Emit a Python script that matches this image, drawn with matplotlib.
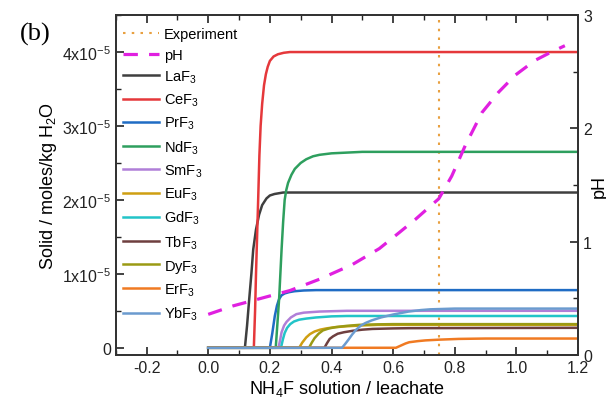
import matplotlib
matplotlib.use("Agg")
import matplotlib.pyplot as plt
import numpy as np

plt.rcParams['font.family'] = ['Liberation Sans', 'DejaVu Sans']
plt.rcParams['mathtext.fontset'] = 'custom'
plt.rcParams['mathtext.rm'] = 'Liberation Sans'
plt.rcParams['mathtext.it'] = 'Liberation Sans:italic'
plt.rcParams['axes.unicode_minus'] = False

# solid amounts (moles/kg H2O, in units of 1e-5)
la_x = [0.0, 0.119, 0.126, 0.133, 0.14, 0.146, 0.155, 0.165, 0.175, 0.189, 0.2, 0.215, 0.243, 1.2]
la_y = [0, 0, 0.3, 0.66, 1.0, 1.33, 1.6, 1.8, 1.93, 2.02, 2.06, 2.08, 2.1, 2.1]
ce_x = [0.0, 0.148, 0.152, 0.155, 0.162, 0.166, 0.170, 0.175, 0.181, 0.187, 0.193,
        0.2, 0.212, 0.226, 0.245, 0.265, 1.2]
ce_y = [0, 0, 0.5, 1.0, 2.0, 2.6, 3.0, 3.3, 3.55, 3.7, 3.8,
        3.88, 3.94, 3.97, 3.99, 4.0, 4.0]
pr_x = [0.0, 0.2, 0.208, 0.216, 0.223, 0.23, 0.238, 0.248, 0.262, 0.28, 0.31, 0.35, 1.2]
pr_y = [0, 0, 0.2, 0.43, 0.57, 0.66, 0.71, 0.735, 0.752, 0.765, 0.775, 0.78, 0.78]
nd_x = [0.0, 0.219, 0.224, 0.23, 0.238, 0.243, 0.248, 0.253, 0.259, 0.27, 0.281,
        0.3, 0.318, 0.34, 0.361, 0.4, 0.45, 0.5, 1.2]
nd_y = [0, 0, 0.3, 0.66, 1.33, 1.7, 2.0, 2.13, 2.23, 2.34, 2.42,
        2.5, 2.55, 2.59, 2.61, 2.63, 2.64, 2.65, 2.65]
sm_x = [0.0, 0.228, 0.233, 0.238, 0.246, 0.254, 0.268, 0.286, 0.31, 0.361, 0.45, 1.2]
sm_y = [0, 0, 0.1, 0.21, 0.3, 0.35, 0.41, 0.455, 0.475, 0.49, 0.5, 0.5]
eu_x = [0.0, 0.295, 0.305, 0.318, 0.33, 0.345, 0.363, 0.383, 0.41, 0.447, 0.5, 0.55, 1.2]
eu_y = [0, 0, 0.07, 0.14, 0.185, 0.22, 0.245, 0.262, 0.278, 0.29, 0.302, 0.31, 0.31]
gd_x = [0.0, 0.236, 0.242, 0.248, 0.256, 0.266, 0.278, 0.295, 0.318, 0.35, 0.4, 0.45, 1.2]
gd_y = [0, 0, 0.11, 0.2, 0.27, 0.32, 0.355, 0.38, 0.395, 0.41, 0.425, 0.43, 0.43]
tb_x = [0.0, 0.377, 0.385, 0.394, 0.405, 0.42, 0.44, 0.469, 0.5, 0.533, 0.6, 0.65, 1.2]
tb_y = [0, 0, 0.06, 0.12, 0.155, 0.19, 0.21, 0.23, 0.245, 0.255, 0.262, 0.265, 0.27]
dy_x = [0.0, 0.327, 0.336, 0.345, 0.358, 0.372, 0.392, 0.415, 0.45, 0.49, 0.55, 0.6, 1.2]
dy_y = [0, 0, 0.07, 0.13, 0.19, 0.235, 0.262, 0.28, 0.297, 0.31, 0.317, 0.32, 0.32]
er_x = [0.0, 0.609, 0.625, 0.64, 0.652, 0.68, 0.705, 0.75, 0.813, 0.9, 1.2]
er_y = [0, 0, 0.03, 0.058, 0.075, 0.09, 0.1, 0.11, 0.12, 0.125, 0.125]
yb_x = [0.0, 0.434, 0.444, 0.455, 0.467, 0.48, 0.495, 0.51, 0.53, 0.56, 0.6,
        0.65, 0.69, 0.72, 0.8, 1.2]
yb_y = [0, 0, 0.05, 0.11, 0.18, 0.245, 0.3, 0.335, 0.37, 0.41, 0.45,
        0.49, 0.51, 0.52, 0.53, 0.53]

# pH along the titration
ph_x = [0.0, 0.081, 0.265, 0.361, 0.468, 0.555, 0.619, 0.673, 0.727, 0.748,
        0.79, 0.834, 0.888, 0.942, 0.996, 1.06, 1.11, 1.157]
ph_y = [0.36, 0.435, 0.57, 0.67, 0.80, 0.94, 1.08, 1.20, 1.33, 1.38,
        1.58, 1.85, 2.14, 2.32, 2.47, 2.60, 2.67, 2.73]

experiment_x = 0.75

series = [
    ('LaF$_3$', la_x, la_y, '#3f3f3f'),
    ('CeF$_3$', ce_x, ce_y, '#e5383b'),
    ('PrF$_3$', pr_x, pr_y, '#1f6cc4'),
    ('NdF$_3$', nd_x, nd_y, '#2e9f5e'),
    ('SmF$_3$', sm_x, sm_y, '#b07fd8'),
    ('EuF$_3$', eu_x, eu_y, '#cf9f12'),
    ('GdF$_3$', gd_x, gd_y, '#22c4c8'),
    ('TbF$_3$', tb_x, tb_y, '#6e3f3f'),
    ('DyF$_3$', dy_x, dy_y, '#9b9a14'),
    ('ErF$_3$', er_x, er_y, '#f07a22'),
    ('YbF$_3$', yb_x, yb_y, '#6b9bcf'),
]

fig = plt.figure(figsize=(6.06, 4.02), dpi=100)
ax = fig.add_axes([0.191, 0.114, 0.763, 0.846])
ax2 = ax.twinx()

exp_line = ax.axvline(experiment_x, color='#e8a040', lw=1.5, dashes=(1.2, 3.0),
                      label='Experiment')
handles = []
for name, xs, ys, col in series:
    ln, = ax.plot(xs, np.array(ys) * 1e-5, color=col, lw=1.8, label=name)
    handles.append(ln)

ph_line, = ax2.plot(ph_x, ph_y, color='#e020e0', lw=2.3, dashes=(4.5, 3.5), label='pH')

ax.set_xlim(-0.3, 1.2)
ax.set_ylim(-1e-6, 4.5e-5)
ax2.set_ylim(0, 3)

ax.set_xticks([-0.2, 0.0, 0.2, 0.4, 0.6, 0.8, 1.0, 1.2])
ax.set_xticks(np.arange(-0.3, 1.21, 0.1), minor=True)
ax.set_yticks([0, 1e-5, 2e-5, 3e-5, 4e-5])
ax.set_yticklabels(['0', '1x10$^{-5}$', '2x10$^{-5}$', '3x10$^{-5}$', '4x10$^{-5}$'])
ax.set_yticks(np.arange(0, 4.6e-5, 0.5e-5), minor=True)
ax2.set_yticks([0, 1, 2, 3])
ax2.set_yticks([0.5, 1.5, 2.5], minor=True)

ax.tick_params(which='both', direction='in', top=True, labelsize=11.5, colors='#222222')
ax.tick_params(which='major', length=6, width=1.2)
ax.tick_params(which='minor', length=3.5, width=1.0)
ax2.tick_params(which='both', direction='in', labelsize=11.5, colors='#222222')
ax2.tick_params(which='major', length=6, width=1.2)
ax2.tick_params(which='minor', length=3.5, width=1.0)
for a in (ax, ax2):
    for s in a.spines.values():
        s.set_color('#333333')
        s.set_linewidth(1.3)

ax.set_xlabel('NH$_4$F solution / leachate', fontsize=13, labelpad=2)
ax.set_ylabel('Solid / moles/kg H$_2$O', fontsize=13, labelpad=2)
ax2.set_ylabel('pH', fontsize=13, labelpad=-1)

ax2.legend([exp_line, ph_line] + handles,
           ['Experiment', 'pH'] + [s[0] for s in series],
           loc='upper left', bbox_to_anchor=(0.009, 0.974), frameon=False,
           fontsize=10.5, handlelength=2.5, handletextpad=0.3, labelspacing=0.47,
           borderaxespad=0.0, borderpad=0.2)

fig.text(0.033, 0.915, '(b)', fontsize=19, family='Liberation Serif',
         ha='left', va='center')

fig.savefig('out.png', dpi=100)
